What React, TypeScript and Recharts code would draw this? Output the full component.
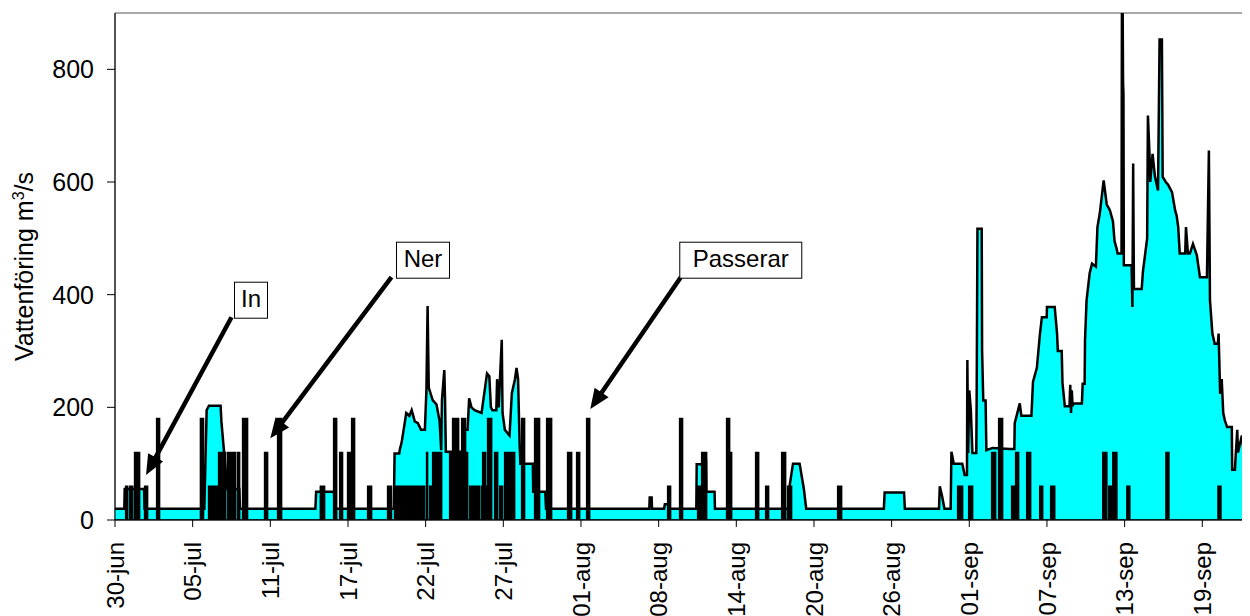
import { ComposedChart, Area, XAxis, YAxis, ReferenceArea, ReferenceLine } from 'recharts'

// x is the row position on Excel's category axis: one tick label every 10 units
const tickPositions = [0, 10, 20, 30, 40, 50, 60, 70, 80, 90, 100, 110, 120, 130, 140]
const tickLabels = [
  '30-jun', '05-jul', '11-jul', '17-jul', '22-jul', '27-jul', '01-aug', '08-aug',
  '14-aug', '20-aug', '26-aug', '01-sep', '07-sep', '13-sep', '19-sep',
]
const yTicks = [0, 200, 400, 600, 800]
const xEnd = 145.5

// Vattenföring (m3/s): [x, flow]
const flowPoints: [number, number][] = [
  [0, 20], [1.2, 20], [1.25, 55], [3.75, 55], [3.8, 20],
  [11.5, 20], [11.8, 195], [12.1, 203], [13.6, 203], [13.7, 175], [14.3, 80], [14.4, 55], [16.0, 55], [16.1, 20],
  [25.8, 20], [25.9, 50], [28.2, 50], [28.3, 20],
  [35.9, 20], [36.0, 118], [36.6, 118], [36.7, 127], [36.9, 137], [37.3, 172], [37.5, 190], [37.9, 185],
  [38.2, 195], [38.6, 175], [39.0, 172], [39.4, 160], [39.9, 160], [40.1, 231], [40.25, 380], [40.4, 235],
  [40.9, 213], [41.4, 205], [41.8, 175], [42.0, 124], [42.1, 213], [42.4, 266], [42.5, 213], [42.6, 121],
  [44.7, 121], [44.8, 160], [45.4, 160], [45.6, 216], [45.9, 200], [46.3, 195], [47.2, 190], [47.6, 230],
  [47.9, 260], [48.2, 255], [48.4, 200], [48.6, 195], [49.1, 195], [49.2, 250], [49.4, 200], [49.8, 320],
  [49.9, 190], [50.2, 160], [50.8, 150], [51.1, 225], [51.5, 250], [51.7, 270], [51.9, 250], [52.1, 136],
  [52.2, 100], [53.8, 100], [53.85, 50], [55.4, 50], [55.5, 20],
  [68.8, 20], [68.85, 40], [69.1, 40], [69.15, 20],
  [70.7, 20], [70.8, 28], [71.2, 28], [71.3, 20],
  [74.85, 20], [74.9, 99], [75.6, 99], [75.65, 105], [76.1, 105], [76.15, 50], [77.2, 50], [77.25, 20],
  [86.75, 20], [86.8, 55], [87.3, 100], [88.15, 100], [88.7, 55], [89.0, 20],
  [99.0, 20], [99.1, 49], [101.6, 49], [101.7, 20],
  [106.1, 20], [106.2, 60], [106.5, 42], [106.8, 20],
  [107.6, 20], [107.7, 121], [108.0, 100], [109.1, 100], [109.4, 80], [109.7, 80], [109.75, 284],
  [109.85, 119], [110.0, 230], [110.2, 195], [110.4, 119], [110.9, 119], [110.95, 219], [111.05, 517],
  [111.6, 517], [111.65, 300], [111.8, 212], [112.1, 212], [112.2, 124], [113.0, 128], [115.2, 126],
  [115.8, 126], [115.85, 172], [116.5, 207], [116.7, 185], [118.0, 185], [118.2, 245], [118.7, 270],
  [119.1, 331], [119.35, 360], [119.97, 360], [120.0, 378], [121.0, 378], [121.3, 331], [121.4, 300],
  [121.9, 300], [122.0, 243], [122.3, 202], [122.9, 202], [123.0, 240], [123.1, 190], [123.2, 230],
  [123.3, 202], [123.4, 207], [124.5, 207], [124.6, 242],
  [124.85, 242], [124.9, 319], [125.1, 390], [125.5, 438], [125.8, 455], [126.3, 450], [126.5, 520],
  [126.8, 544], [127.3, 603], [127.7, 560], [128.1, 550], [128.5, 530], [128.7, 495], [129.0, 480],
  [129.1, 473], [129.6, 473], [129.65, 900], [129.75, 900], [129.8, 775], [129.85, 757], [129.9, 452],
  [130.9, 452], [131.0, 378], [131.1, 633], [131.2, 410], [132.2, 410], [132.35, 440], [132.9, 500],
  [133.0, 718], [133.2, 650], [133.3, 600], [133.6, 650], [133.9, 610], [134.3, 585], [134.5, 853],
  [134.8, 853], [134.9, 609], [135.3, 600], [135.6, 595], [136.1, 582], [136.5, 550], [136.7, 540],
  [136.9, 520], [137.1, 473], [137.8, 473], [137.9, 520], [138.15, 473], [138.4, 473], [138.8, 490],
  [139.3, 470], [139.45, 455], [139.7, 431], [140.6, 431], [140.85, 656], [140.99, 390], [141.3, 331],
  [141.6, 313], [142.0, 313], [142.1, 331], [142.3, 224], [142.5, 250], [142.7, 190], [142.9, 177],
  [143.2, 165], [143.8, 165], [143.85, 89], [144.2, 89], [144.5, 160], [144.6, 120], [145.1, 150],
  [145.5, 100],
]

// fish registrations: [from x, to x, level]
const passages: [number, number, number][] = [
  [1.37, 1.62, 60], [1.88, 2.27, 60], [2.52, 3.17, 120], [3.81, 4.2, 60], [5.36, 5.74, 180],
  [11.0, 11.4, 180], [12.05, 14.11, 60], [13.34, 13.73, 120], [13.85, 14.24, 120], [14.5, 15.0, 120],
  [15.14, 15.53, 120], [15.79, 16.05, 120], [16.43, 17.07, 180], [19.26, 19.65, 120], [20.94, 21.45, 180],
  [26.44, 26.99, 60], [28.15, 28.54, 180], [28.93, 29.3, 120], [29.95, 30.47, 120], [30.47, 30.85, 180],
  [32.53, 33.04, 60], [35.1, 35.6, 60], [36.0, 39.87, 60], [40.12, 40.25, 120], [40.51, 40.9, 60],
  [40.9, 42.06, 120], [43.09, 45.4, 120], [43.47, 44.25, 180], [44.64, 45.14, 180], [45.66, 46.95, 60],
  [47.2, 47.98, 60], [47.34, 47.72, 120], [47.98, 48.5, 180], [48.88, 49.27, 120], [49.53, 49.91, 60],
  [50.17, 50.55, 120], [50.55, 51.46, 120], [52.36, 52.74, 180], [54.03, 54.67, 180], [55.58, 56.22, 180],
  [58.28, 58.8, 120], [59.44, 59.83, 120], [60.73, 61.12, 180],
  [71.16, 71.54, 60], [72.7, 73.08, 180], [75.02, 75.66, 60], [75.54, 76.18, 120], [78.75, 79.14, 180],
  [79.01, 79.4, 120], [82.49, 82.88, 120], [83.78, 84.16, 60], [85.84, 86.35, 120], [86.61, 87.12, 60],
  [93.05, 93.56, 60],
  [108.5, 109.14, 60], [109.92, 110.43, 60], [112.88, 113.39, 120], [113.78, 114.29, 180],
  [115.45, 115.84, 60], [115.97, 116.35, 120], [117.39, 117.9, 120], [119.07, 119.45, 60],
  [120.48, 121.0, 60], [127.19, 127.71, 120], [127.97, 128.48, 60], [128.48, 129.0, 120],
  [130.29, 130.67, 60], [135.32, 135.7, 120], [142.02, 142.4, 60],
]

const annotations = [
  { text: 'In', from: { x: 15.0, y: 360 }, to: { x: 4.0, y: 80 }, boxDx: 3, boxW: 33 },
  { text: 'Ner', from: { x: 35.6, y: 431 }, to: { x: 20.0, y: 145 }, boxDx: 5, boxW: 53 },
  { text: 'Passerar', from: { x: 72.85, y: 431 }, to: { x: 61.2, y: 197 }, boxDx: -1, boxW: 122 },
]

const FONT = "'Liberation Sans', Arial, sans-serif"

const flowData = flowPoints.map(([x, v]) => ({ x, v }))

// step profile: 0 between registrations, the highest level where they overlap
function buildPassageData(list: [number, number, number][]) {
  const edges = Array.from(new Set([0, xEnd, ...list.flatMap(([a, b]) => [a, b])])).sort((a, b) => a - b)
  const out: { x: number; v: number }[] = []
  for (let i = 0; i < edges.length - 1; i++) {
    const mid = (edges[i] + edges[i + 1]) / 2
    const level = list.reduce((m, [a, b, l]) => (mid > a && mid < b ? Math.max(m, l) : m), 0)
    out.push({ x: edges[i], v: level }, { x: edges[i + 1], v: level })
  }
  return out
}
const passageData = buildPassageData(passages)

function DateTick({ x, y, payload }: any) {
  const idx = tickPositions.indexOf(payload.value)
  return (
    <text
      x={x}
      y={y}
      dy="0.36em"
      transform={`rotate(-90, ${x}, ${y})`}
      textAnchor="end"
      fontSize={24}
      fontFamily={FONT}
      fill="#000"
    >
      {tickLabels[idx]}
    </text>
  )
}

function YTitle({ viewBox }: any) {
  const x = viewBox.x + 25
  const y = viewBox.y + viewBox.height / 2
  return (
    <text
      x={x}
      y={y}
      transform={`rotate(-90, ${x}, ${y})`}
      textAnchor="middle"
      fontSize={25}
      fontFamily={FONT}
      fill="#000"
    >
      Vattenföring m
      <tspan dy={-9} fontSize={16}>3</tspan>
      <tspan dy={9}>/s</tspan>
    </text>
  )
}

function makeArrow(ann: (typeof annotations)[number]) {
  return function Arrow(props: any) {
    const { x1, y1, x2, y2 } = props
    const dx = x2 - x1
    const dy = y2 - y1
    const len = Math.sqrt(dx * dx + dy * dy)
    const ux = dx / len
    const uy = dy / len
    const head = 20
    const half = 8.5
    const bx = x2 - ux * head
    const by = y2 - uy * head
    const boxBottom = y1 + 1
    const boxLeft = x1 + ann.boxDx
    return (
      <g>
        <line x1={x1} y1={y1} x2={bx + ux * 2} y2={by + uy * 2} stroke="#000" strokeWidth={4.5} />
        <polygon
          points={`${x2},${y2} ${bx - uy * half},${by + ux * half} ${bx + uy * half},${by - ux * half}`}
          fill="#000"
        />
        <rect x={boxLeft} y={boxBottom - 36} width={ann.boxW} height={36} fill="#fff" stroke="#000" strokeWidth={1} />
        <text
          x={boxLeft + ann.boxW / 2}
          y={boxBottom - 11}
          textAnchor="middle"
          fontSize={24}
          fontFamily={FONT}
          fill="#000"
        >
          {ann.text}
        </text>
      </g>
    )
  }
}

export default function App() {
  return (
    <ComposedChart width={1242} height={608} margin={{ top: 5, right: 5, bottom: 0, left: 0 }}>
      <XAxis
        dataKey="x"
        type="number"
        domain={[0, xEnd]}
        ticks={tickPositions}
        interval={0}
        allowDataOverflow
        height={96}
        tick={<DateTick />}
        tickSize={7}
        tickMargin={15}
        axisLine={{ stroke: '#000', strokeWidth: 1 }}
        tickLine={{ stroke: '#000' }}
      />
      <YAxis
        type="number"
        domain={[0, 900]}
        ticks={yTicks}
        allowDataOverflow
        width={107}
        tickSize={8}
        tickMargin={13}
        tick={{ fill: '#000', fontSize: 25, fontFamily: FONT }}
        axisLine={{ stroke: '#000', strokeWidth: 1 }}
        tickLine={{ stroke: '#000' }}
        label={<YTitle />}
      />

      <ReferenceArea x1={0} x2={xEnd} y1={0} y2={900} fill="none" stroke="#555" strokeWidth={1} ifOverflow="visible" />

      <Area
        data={flowData}
        dataKey="v"
        type="linear"
        stroke="#000"
        strokeWidth={2.5}
        fill="#00FFFF"
        fillOpacity={1}
        dot={false}
        activeDot={false}
        isAnimationActive={false}
      />
      <Area
        data={passageData}
        dataKey="v"
        type="linear"
        stroke="#000"
        strokeWidth={1.5}
        fill="#000"
        fillOpacity={1}
        dot={false}
        activeDot={false}
        isAnimationActive={false}
      />

      {annotations.map((ann) => (
        <ReferenceLine
          key={ann.text}
          segment={[ann.from, ann.to]}
          ifOverflow="visible"
          shape={makeArrow(ann)}
        />
      ))}
    </ComposedChart>
  )
}
